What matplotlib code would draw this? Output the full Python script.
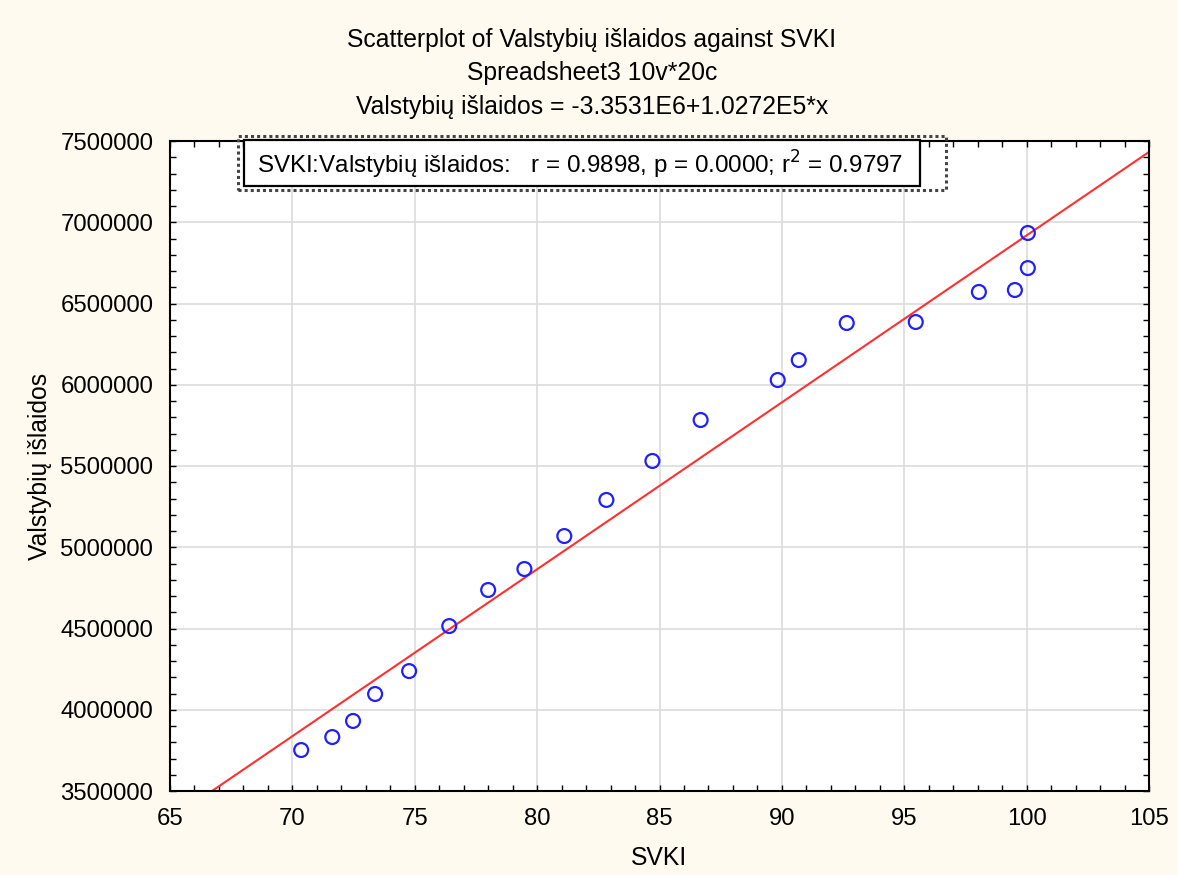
import numpy as np
import matplotlib
matplotlib.use("Agg")
import matplotlib.pyplot as plt
from matplotlib.patches import Rectangle
from matplotlib.ticker import MultipleLocator

plt.rcParams["font.family"] = ["Liberation Sans", "DejaVu Sans"]

# ── Data ───────────────────────────────────────────────────────────────────
svki = [70.36, 71.63, 72.48, 73.38, 74.77, 76.41, 78.00, 79.48, 81.11, 82.83,
        84.71, 86.68, 89.83, 90.69, 92.65, 95.47, 98.05, 99.52, 100.05, 100.05]
islaidos = [3752000, 3832000, 3931000, 4097000, 4238000, 4515000, 4737000,
            4866000, 5069000, 5291000, 5531000, 5783000, 6029000, 6152000,
            6380000, 6386000, 6571000, 6583000, 6718000, 6934000]

intercept = -3.3531e6
slope = 1.0272e5

x_ticks = [65, 70, 75, 80, 85, 90, 95, 100, 105]
y_ticks = [3500000, 4000000, 4500000, 5000000, 5500000, 6000000, 6500000,
           7000000, 7500000]

W, H = 1178, 875
bg = "#fffaf0"
fs = 17.8

fig = plt.figure(figsize=(W / 100, H / 100), dpi=100, facecolor=bg)
ax = fig.add_axes([170 / W, 1 - 791 / H, (1149 - 170) / W, (791 - 141) / H])
ax.set_facecolor("white")

# ── Regression line ────────────────────────────────────────────────────────
xl = np.linspace(x_ticks[0], x_ticks[-1], 200)
ax.plot(xl, intercept + slope * xl, color="#ff3030", lw=1.5, zorder=2)

# ── Scatter ────────────────────────────────────────────────────────────────
ax.scatter(svki, islaidos, s=100, facecolors="none", edgecolors="#2020ff",
           linewidths=1.6, zorder=3)

ax.set_xlim(x_ticks[0], x_ticks[-1])
ax.set_ylim(y_ticks[0], y_ticks[-1])
ax.set_xticks(x_ticks)
ax.set_yticks(y_ticks)
ax.set_yticklabels([str(v) for v in y_ticks])
ax.xaxis.set_minor_locator(MultipleLocator(1))
ax.yaxis.set_minor_locator(MultipleLocator(100000))
ax.tick_params(which="both", direction="in", top=True, right=True,
               labelsize=17.2, colors="black")
ax.tick_params(axis="x", pad=12)
ax.tick_params(axis="y", pad=12)
ax.tick_params(which="major", length=4, width=1)
ax.tick_params(which="minor", length=4, width=1)
ax.grid(True, which="major", color="#dcdcdc", lw=1.2, zorder=0)
ax.set_axisbelow(True)
for s in ax.spines.values():
    s.set_linewidth(1.5)

ax.set_xlabel("SVKI", fontsize=fs, labelpad=12)
ax.set_ylabel("Valstybių išlaidos", fontsize=fs, labelpad=6)

# ── Titles ─────────────────────────────────────────────────────────────────
titles = ["Scatterplot of Valstybių išlaidos against SVKI",
          "Spreadsheet3 10v*20c",
          "Valstybių išlaidos = -3.3531E6+1.0272E5*x"]
for t, yp in zip(titles, [40, 73, 107]):
    fig.text(592 / W, 1 - yp / H, t, ha="center", va="center", fontsize=fs)

# ── Stats box ──────────────────────────────────────────────────────────────
def px_rect(x0, y0, x1, y1, **kw):
    return Rectangle((x0 / W, 1 - y1 / H), (x1 - x0) / W, (y1 - y0) / H,
                     transform=fig.transFigure, **kw)

fig.patches.append(px_rect(238, 136, 946, 190, fill=False, ec="#444444",
                           lw=2.2, ls=(0, (1, 1)), zorder=5))
fig.patches.append(px_rect(244, 140, 920, 186, fc="white", ec="black",
                           lw=1.6, zorder=6))
fig.text(257 / W, 1 - 165 / H,
         "SVKI:Valstybių išlaidos:   r = 0.9898, p = 0.0000; r$^2$ = 0.9797",
         ha="left", va="center", fontsize=17.4, zorder=7)

fig.savefig("out.png", dpi=100, facecolor=bg)
